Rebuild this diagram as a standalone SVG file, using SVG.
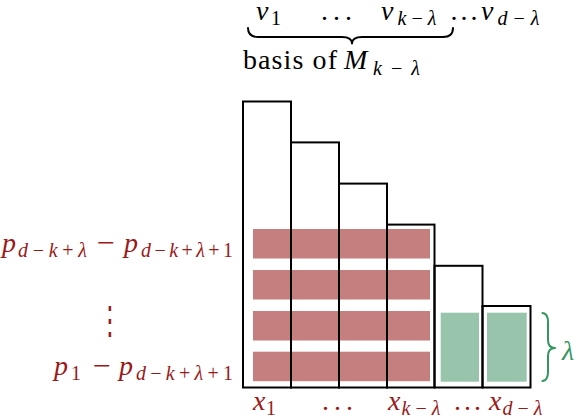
<svg xmlns="http://www.w3.org/2000/svg" width="582" height="420" viewBox="0 0 582 420">
<style>
text { font-family: "Liberation Serif", "DejaVu Serif", serif; font-size: 28px; }
.i { font-style: italic; }
.s { font-size: 20px; }
.u { font-style: normal; }
.red { fill: #9A1A1A; }
.grn { fill: #33965E; }
.col { fill: none; stroke: #000; stroke-width: 2; }
.bar { fill: #C47F7E; }
.gbar { fill: #97C4AB; }
.brace { fill: none; stroke: #000; stroke-width: 2; stroke-linecap: round; stroke-linejoin: round; }
.gbrace { fill: none; stroke: #33965E; stroke-width: 2; stroke-linecap: round; stroke-linejoin: round; }
</style>
<rect width="582" height="420" fill="#fff"/>

<g id="bars">
  <rect class="bar" x="253" y="229" width="177" height="29.5"/>
  <rect class="bar" x="253" y="270" width="177" height="29.5"/>
  <rect class="bar" x="253" y="311" width="177" height="29.5"/>
  <rect class="bar" x="253" y="351.7" width="177" height="29.5"/>
  <rect class="gbar" x="440.7" y="312.7" width="38.3" height="69"/>
  <rect class="gbar" x="487" y="312.7" width="39.7" height="69"/>
</g>

<g id="columns">
  <g id="col1"><rect class="col" x="243" y="101.5" width="48" height="286"/></g>
  <g id="col2"><rect class="col" x="291" y="142.4" width="48" height="245.1"/></g>
  <g id="col3"><rect class="col" x="339" y="183.6" width="48" height="203.9"/></g>
  <g id="col4"><rect class="col" x="387" y="224.6" width="47.5" height="162.9"/></g>
  <g id="col5"><rect class="col" x="434.5" y="265.8" width="48" height="121.7"/></g>
  <g id="col6"><rect class="col" x="482.5" y="306" width="48" height="81.5"/></g>
</g>

<g id="connectors">
  <path class="brace" d="M248,28 Q248,37 258,37 L342,37 Q352,37 352,43.5 Q352,37 362,37 L443,37 Q453,37 453,28"/>
  <path class="gbrace" d="M542.5,313 Q548,313.5 548,322 L548,340 Q548,348 555,348 Q548,348 548,356 L548,372 Q548,380.5 542.5,381"/>
</g>

<g id="top-labels">
  <text class="i" x="256" y="20">v</text>
  <text class="s u" x="271" y="25">1</text>
  <text x="321" y="20" textLength="31" lengthAdjust="spacing">...</text>
  <text class="i" x="381" y="20">v</text>
  <text class="s" x="397.5" y="25" textLength="39" lengthAdjust="spacing"><tspan class="i">k</tspan>−<tspan class="i">λ</tspan></text>
  <text x="450.5" y="20" textLength="27" lengthAdjust="spacing">...</text>
  <text class="i" x="481" y="20">v</text>
  <text class="s" x="497.5" y="25" textLength="42" lengthAdjust="spacing"><tspan class="i">d</tspan>−<tspan class="i">λ</tspan></text>
</g>

<g id="basis-label">
  <text x="243" y="69" textLength="94" lengthAdjust="spacing">basis of</text>
  <text class="i" x="344" y="69">M</text>
  <text class="s" x="373" y="75" textLength="47" lengthAdjust="spacing"><tspan class="i">k</tspan>−<tspan class="i">λ</tspan></text>
</g>

<g id="row-labels">
  <text class="i red" x="2" y="252">p</text>
  <text class="s red" x="18" y="257" textLength="69" lengthAdjust="spacing"><tspan class="i">d</tspan>−<tspan class="i">k</tspan>+<tspan class="i">λ</tspan></text>
  <text class="red" x="97" y="252" textLength="18" lengthAdjust="spacingAndGlyphs">−</text>
  <text class="i red" x="124" y="252">p</text>
  <text class="s red" x="141" y="257" textLength="92" lengthAdjust="spacing"><tspan class="i">d</tspan>−<tspan class="i">k</tspan>+<tspan class="i">λ</tspan>+1</text>

  <text class="red" x="0" y="0" text-anchor="middle" transform="translate(110,334) scale(1,1.6)" style="font-size: 24px;">⋮</text>

  <text class="i red" x="54" y="375">p</text>
  <text class="s u red" x="71" y="380">1</text>
  <text class="red" x="93" y="375" textLength="18" lengthAdjust="spacingAndGlyphs">−</text>
  <text class="i red" x="119" y="375">p</text>
  <text class="s red" x="136" y="380" textLength="97" lengthAdjust="spacing"><tspan class="i">d</tspan>−<tspan class="i">k</tspan>+<tspan class="i">λ</tspan>+1</text>
</g>

<g id="bottom-labels">
  <text class="i red" x="253" y="410">x</text>
  <text class="s u red" x="266" y="415">1</text>
  <text class="red" x="322" y="410" textLength="31" lengthAdjust="spacing">...</text>
  <text class="i red" x="388" y="410">x</text>
  <text class="s red" x="401.5" y="415" textLength="39" lengthAdjust="spacing"><tspan class="i">k</tspan>−<tspan class="i">λ</tspan></text>
  <text class="red" x="454" y="410" textLength="27" lengthAdjust="spacing">...</text>
  <text class="i red" x="489" y="410">x</text>
  <text class="s red" x="502.5" y="415" textLength="40" lengthAdjust="spacing"><tspan class="i">d</tspan>−<tspan class="i">λ</tspan></text>
</g>

<g id="lambda-label">
  <text class="i grn" x="562" y="360">λ</text>
</g>
</svg>
